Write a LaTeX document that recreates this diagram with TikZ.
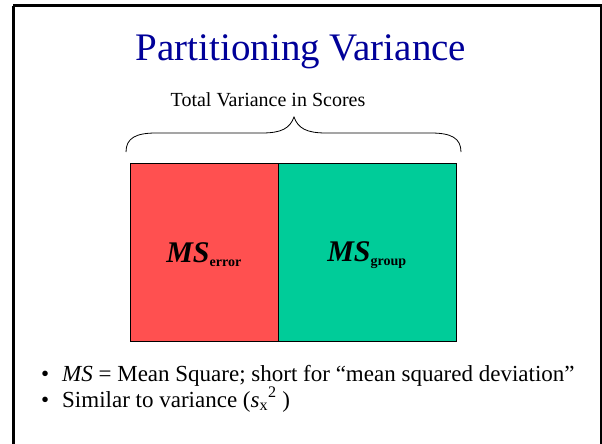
\documentclass[tikz,border=0pt]{standalone}
\usepackage{fontspec}
\setmainfont{Liberation Serif}
\definecolor{titleblue}{RGB}{0,0,153}
\definecolor{errred}{RGB}{255,80,80}
\definecolor{grpgreen}{RGB}{0,204,153}
\tikzset{
  part/.style={draw=black, line width=1.2pt, minimum height=178pt, inner sep=0pt},
  mslabel/.style={font=\fontsize{30}{32}\selectfont\bfseries\itshape},
  bodytext/.style={font=\fontsize{23}{26}\selectfont, anchor=base west, inner sep=0pt}
}
\begin{document}
\begin{tikzpicture}[x=1pt,y=-1pt]
\useasboundingbox (0,0) rectangle (602,444);
\draw[line width=3pt] (13,6) -- (601,6) -- (601,450) (13,450) -- (13,6);
\node[font=\fontsize{39}{41}\selectfont, text=titleblue, anchor=base, inner sep=0pt] (title) at (301,60) {Partitioning Variance};
\node[font=\fontsize{20}{24}\selectfont, anchor=base, inner sep=0pt] (total) at (268,106) {Total Variance in Scores};
\draw[line width=0.8pt] (126,152) .. controls (126,138) and (136,133) .. (156,133)
  -- (262,133) .. controls (282,133) and (290,128) .. (294,117)
  .. controls (298,128) and (306,133) .. (326,133)
  -- (431,133) .. controls (451,133) and (461,138) .. (461,152);
\node[part, fill=errred, minimum width=148pt, anchor=north west] (err) at (130,163) {};
\node[part, fill=grpgreen, minimum width=178pt, anchor=north west] (grp) at (278,163) {};
\node[mslabel] (mserr) at (204,255) {MS\textsubscript{\normalfont\bfseries\fontsize{14}{15}\selectfont error}};
\node[mslabel] (msgrp) at (367,255) {MS\textsubscript{\normalfont\bfseries\fontsize{14}{15}\selectfont group}};
\node[bodytext] (b1) at (41,381) {•};
\node[bodytext] (l1) at (62,381) {\textit{MS} = Mean Square; short for “mean squared deviation”};
\node[bodytext] (b2) at (41,407) {•};
\node[bodytext] (l2) at (62,407) {Similar to variance (\textit{s}\textsubscript{x}\textsuperscript{2} )};
\end{tikzpicture}
\end{document}
